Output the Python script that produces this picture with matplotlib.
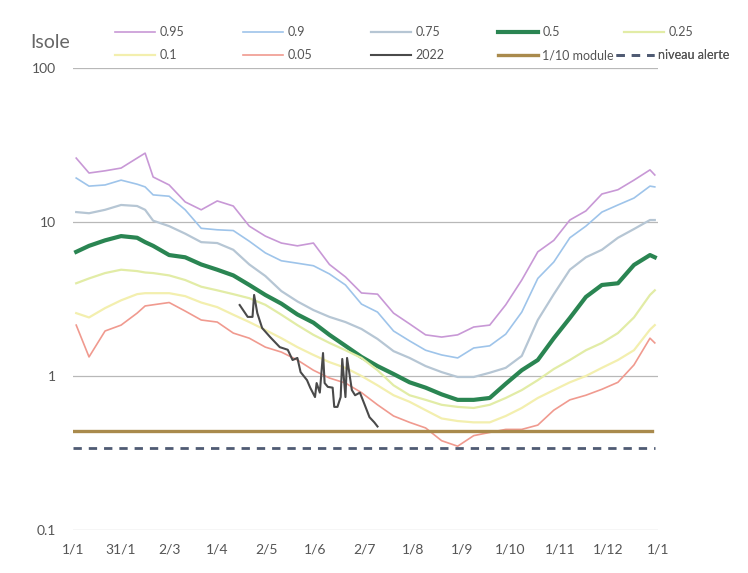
import matplotlib
matplotlib.use("Agg")
import matplotlib.pyplot as plt
from matplotlib import font_manager

# ---------------- data ----------------
DAYS = [2, 10, 20, 30, 40, 45, 50, 60, 70, 80, 90, 100, 110, 120, 130, 140, 150,
        160, 170, 180, 190, 200, 210, 220, 230, 240, 250, 260, 270, 280, 290, 300,
        310, 320, 330, 340, 350, 360, 363]

Q95 = [26, 20.8, 21.5, 22.4, 26, 28, 19.6, 17.4, 13.5, 12.0, 13.7, 12.7,
       9.4, 8.1, 7.3, 7.0, 7.3, 5.3, 4.4, 3.46, 3.4, 2.56, 2.18, 1.85,
       1.79, 1.85, 2.08, 2.14, 2.9, 4.2, 6.4, 7.6, 10.3, 11.8, 15.2, 16.2,
       18.7, 21.8, 20.2]
Q90 = [19.3, 17.1, 17.4, 18.7, 17.6, 16.9, 15.0, 14.7, 12.0, 9.1, 8.9, 8.8,
       7.5, 6.3, 5.6, 5.4, 5.2, 4.6, 3.9, 2.93, 2.6, 1.96, 1.69, 1.47,
       1.37, 1.31, 1.52, 1.57, 1.87, 2.6, 4.3, 5.5, 7.9, 9.4, 11.6, 12.9,
       14.3, 17.1, 16.9]
Q75 = [11.6, 11.4, 12.0, 12.9, 12.7, 12.0, 10.2, 9.4, 8.4, 7.4, 7.3, 6.6,
       5.3, 4.46, 3.56, 3.05, 2.68, 2.42, 2.24, 2.02, 1.74, 1.45, 1.31, 1.16,
       1.06, 0.985, 0.985, 1.05, 1.13, 1.35, 2.31, 3.4, 4.9, 5.9, 6.6, 7.9,
       9.0, 10.3, 10.3]
Q50 = [6.4, 7.0, 7.6, 8.1, 7.9, 7.4, 7.0, 6.1, 5.9, 5.3, 4.9, 4.5,
       3.9, 3.36, 2.95, 2.51, 2.22, 1.85, 1.57, 1.33, 1.16, 1.03, 0.91, 0.84,
       0.76, 0.70, 0.70, 0.72, 0.89, 1.09, 1.27, 1.76, 2.38, 3.26, 3.9, 4.0,
       5.26, 6.1, 5.9]
Q25 = [4.0, 4.3, 4.66, 4.9, 4.8, 4.7, 4.66, 4.5, 4.2, 3.8, 3.6, 3.4,
       3.2, 2.9, 2.5, 2.14, 1.85, 1.64, 1.47, 1.31, 1.09, 0.87, 0.75, 0.70,
       0.65, 0.63, 0.62, 0.65, 0.72, 0.81, 0.94, 1.11, 1.27, 1.47, 1.64, 1.9,
       2.4, 3.36, 3.6]
Q10 = [2.56, 2.4, 2.76, 3.1, 3.4, 3.45, 3.45, 3.45, 3.3, 3.0, 2.8, 2.5,
       2.24, 1.99, 1.76, 1.54, 1.37, 1.23, 1.13, 1.0, 0.87, 0.75, 0.68, 0.60,
       0.53, 0.51, 0.50, 0.50, 0.55, 0.62, 0.72, 0.81, 0.91, 1.0, 1.13, 1.27,
       1.47, 2.0, 2.14]
Q05 = [2.14, 1.33, 1.96, 2.14, 2.56, 2.85, 2.9, 3.0, 2.64, 2.31, 2.24, 1.9,
       1.76, 1.54, 1.43, 1.27, 1.09, 0.97, 0.90, 0.78, 0.65, 0.55, 0.50, 0.46,
       0.38, 0.35, 0.41, 0.43, 0.45, 0.45, 0.48, 0.60, 0.70, 0.75, 0.82, 0.91,
       1.18, 1.76, 1.64]

D2022 = [104, 109, 112, 113, 115, 118, 123, 129, 134, 137, 140, 142, 146, 148,
         151, 152, 154, 156, 157, 159, 162, 163, 165, 167, 168, 170, 171, 174,
         176, 179, 182, 185, 188, 190]
V2022 = [2.89, 2.42, 2.42, 3.36, 2.56, 2.05, 1.79, 1.54, 1.48, 1.27, 1.31, 1.06,
         0.94, 0.84, 0.73, 0.90, 0.78, 1.41, 0.90, 0.85, 0.84, 0.63, 0.63, 0.73,
         1.29, 0.73, 1.31, 0.81, 0.75, 0.78, 0.65, 0.54, 0.50, 0.47]

MODULE_DAYS = [0, 361]
MODULE_10 = 0.44
ALERTE_DAYS = [0, 363]
ALERTE = 0.34

TICK_DAYS = [0, 30, 60, 90, 121, 151, 182, 212, 243, 273, 304, 334, 365]
TICK_LABELS = ["1/1", "31/1", "2/3", "1/4", "2/5", "1/6", "2/7", "1/8", "1/9",
               "1/10", "1/11", "1/12", "1/1"]
Y_TICKS = [0.1, 1, 10, 100]
Y_LABELS = ["0.1", "1", "10", "100"]

# ---------------- style ----------------
avail = {f.name for f in font_manager.fontManager.ttflist}
fam = [f for f in ["Liberation Sans Narrow", "Lato", "DejaVu Sans"] if f in avail]
plt.rcParams["font.family"] = fam

W, H = 748, 573
fig = plt.figure(figsize=(W / 100, H / 100), dpi=100)
ax = fig.add_axes([73 / W, 1 - 530 / H, 585 / W, 462 / H])
ax.set_yscale("log")
ax.set_xlim(0, 365)
ax.set_ylim(0.1, 100)

for s in ax.spines.values():
    s.set_visible(False)
for yv in Y_TICKS:
    ax.axhline(yv, color="#b8b8b8", lw=0.9, zorder=0)

series = [
    ("0.95", Q95, "#c898d6", 1.2),
    ("0.9", Q90, "#9ec4ea", 1.2),
    ("0.75", Q75, "#b6c6d4", 1.6),
    ("0.5", Q50, "#2a8552", 3.0),
    ("0.25", Q25, "#e2eca6", 1.6),
    ("0.1", Q10, "#f3efae", 1.6),
    ("0.05", Q05, "#f09a8f", 1.2),
]
handles = {}
for name, vals, col, lw in series:
    (h,) = ax.plot(DAYS, vals, color=col, lw=lw, solid_joinstyle="round", zorder=3)
    handles[name] = h

(h22,) = ax.plot(D2022, V2022, color="#4a4a4a", lw=1.5, zorder=5)
handles["2022"] = h22
(hmod,) = ax.plot(MODULE_DAYS, [MODULE_10] * 2, color="#a98a4c", lw=2.4, zorder=4)
handles["1/10 module"] = hmod
(hal,) = ax.plot(ALERTE_DAYS, [ALERTE] * 2, color="#4f5b73", lw=2.0,
                 dashes=(3, 2.5), zorder=4)
handles["niveau alerte"] = hal

ax.set_xticks(TICK_DAYS)
ax.set_xticklabels(TICK_LABELS)
ax.set_yticks(Y_TICKS)
ax.set_yticklabels(Y_LABELS)
ax.minorticks_off()
ax.tick_params(axis="both", length=0, labelsize=10, colors="#555555")
ax.tick_params(axis="x", pad=10)
ax.tick_params(axis="y", pad=12)

# legend (row-based layout as in the original)
rows = [
    [("0.95", 115, 3.2), ("0.9", 243, 3.2), ("0.75", 371, 3.2), ("0.5", 498, 3.2), ("0.25", 624, 3.2)],
    [("0.1", 115, 3.2), ("0.05", 243, 3.2), ("2022", 371, 3.2), ("1/10 module", 498, 3.2),
     ("niveau alerte", 616, 3.0)],
]
row_y = [32, 55]
for r, entries in enumerate(rows):
    for name, px, hl in entries:
        lg = ax.legend([handles[name]], [name], loc="center left",
                       bbox_to_anchor=(px / W, 1 - row_y[r] / H),
                       bbox_transform=fig.transFigure, frameon=False,
                       borderpad=0, borderaxespad=0, handlelength=hl,
                       handletextpad=0.35, fontsize=9, labelcolor="#555555")
        ax.add_artist(lg)

fig.text(30 / W, 1 - 42 / H, "Isole", fontsize=14, color="#666666", va="center")

fig.savefig("out.png", dpi=100)
